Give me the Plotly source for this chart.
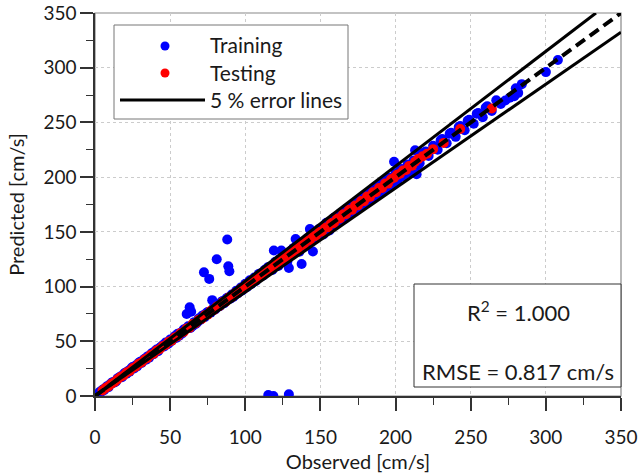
import plotly.graph_objects as go

# ---------------- data (observed, predicted) ----------------
train_points = [
    (2, 1.5), (3, 3.6), (4, 3.8), (5, 5.6), (6, 5.2), (7, 7.5), (8, 8.9), (9, 8.1), (10, 10.6), (11, 11.8),
    (12, 12.9), (13, 12.4), (14, 13.2), (15, 16.1), (16, 16.9), (17, 17.8), (18, 17.1), (19, 19.9),
    (20, 21.2), (21, 20.3), (22, 22.9), (23, 22.1), (24, 25.1), (25, 26.4), (26, 25.2), (27, 27.8),
    (28, 27.0), (29, 30.2), (30, 31.3), (31, 30.1), (32, 32.6), (33, 34.1), (34, 33.1), (35, 36.2),
    (36, 35.0), (37, 37.9), (38, 39.2), (39, 38.3), (40, 41.1), (41, 42.5), (42, 41.0), (43, 43.8),
    (44, 44.9), (45, 46.3), (46, 45.2), (47, 48.9), (48, 47.1), (49, 48.1), (50, 51.6), (51, 50.2),
    (52, 52.4), (53, 54.6), (54, 53.1), (55, 56.8), (56, 55.0), (57, 57.9), (58, 57.2), (59, 60.8),
    (60, 61.3), (61, 75), (63, 81), (64, 77), (62, 63.8), (63.5, 62.1), (65, 64.1), (66, 67.5),
    (67, 65.8), (68, 67.2), (69, 70.8), (70, 69.5), (71, 72.9), (72, 73.9), (72.5, 113), (73, 72.1),
    (74, 75.6), (75, 76.8), (76, 107), (77, 76.2), (78, 87.6), (79, 80.5), (80, 79.1), (81, 125),
    (82, 83.8), (83, 82.1), (84, 85.9), (85, 86.9), (86, 84.8), (87, 88.3), (88, 143), (88.7, 118.6),
    (89.4, 114), (88, 89.7), (90, 88.9), (91, 92.8), (92, 90.6), (93, 92.1), (94, 96.2), (95, 93.8),
    (96, 95.3), (97, 99.1), (98, 96.5), (99, 98.1), (100, 102.5), (101, 99.4), (102, 101.2),
    (103, 105.8), (104, 102.3), (105, 104.0), (106, 108.2), (107, 105.1), (108, 106.9), (109, 111.6),
    (110, 111.9), (111, 109.8), (112, 110.1), (113, 115.3), (114, 112.6), (115, 117.6), (116, 117.8),
    (115.3, 0.9), (118.7, 0.0), (129, 1.5), (117, 116.1), (118, 115.2), (119, 133), (124, 133),
    (120, 122.6), (121, 119.8), (122, 118.9), (123, 125.3), (124, 121.8), (125, 123.4), (126, 128.5),
    (127, 125.1), (128, 122.9), (129, 117), (130, 132.4), (131, 129.2), (132, 135.1), (133.5, 143.4),
    (134, 136.8), (135, 133.1), (136, 131.8), (137.5, 120.7), (138, 140.6), (139, 136.1), (140, 138.2),
    (141, 143.9), (142, 139.4), (143, 152.5), (145, 132), (144, 141.8), (145.5, 148.8), (146, 149.2),
    (147, 143.9), (148, 146.1), (149, 152.6), (150, 152.8), (151, 148.9), (152, 147.6),
    (153, 156.2), (154, 158.4), (155, 152.9), (156, 151.2), (157, 160.1), (158, 155.8), (159, 162.9),
    (160, 163.2), (161, 157.4), (162, 159.9), (163, 166.8), (164, 167.1), (165, 161.0), (166, 163.8),
    (167, 170.9), (168, 171.2), (169, 165.2), (170, 167.5), (171, 174.6), (172, 175.3), (173, 168.8),
    (174, 171.4), (175, 178.9), (176, 179.6), (177, 172.8), (178, 175.2), (179, 183.1), (180, 183.4),
    (181, 176.5), (182, 179.6), (183, 186.6), (184, 187.5), (185, 180.4), (186, 183.4), (187, 190.8),
    (188, 191.6), (189, 184.6), (190, 187.4), (191, 194.9), (192, 195.8), (193, 188.2), (194, 191.1),
    (195, 198.6), (196, 199.5), (199, 214), (197, 192.5), (198, 195.2), (200, 203.6), (201, 196.4),
    (202, 199.1), (203, 206.8), (204, 207.4), (205, 200.6), (206, 203.2), (208, 211.5), (209, 204.1),
    (210, 206.9), (213, 224.6), (214, 202.6), (212, 215.2), (215, 210.8), (216, 212.8), (218, 222.1),
    (220, 223.4), (222, 219.4), (225, 228.6), (228, 225.1), (230, 233.6), (231, 234.8), (234, 230.9),
    (236, 239.7), (237, 240.6), (240, 236.8), (242, 245.8), (243, 246.7), (246, 242.9), (248, 251.6),
    (249, 252.4), (252, 248.8), (254, 257.9), (255, 258.6), (258, 254.7), (260, 263.7), (261, 264.8),
    (264, 260.5), (267, 270.2), (270, 266.9), (273, 270.1), (276, 272.6), (279, 274), (280, 281.2),
    (281.6, 277), (284, 285), (300, 296), (308, 307),
]
test_points = [
    (5, 5.1), (7, 7.2), (9, 8.8), (11, 11.3), (13, 12.8), (15, 15.2), (17, 17.3), (19, 18.7), (21, 21.4),
    (23, 22.7), (25, 25.3), (27, 26.8), (29, 29.4), (31, 30.7), (33, 33.3), (35, 34.8), (37, 37.4),
    (39, 38.6), (41, 41.5), (43, 42.7), (45, 45.4), (47, 46.6), (49, 49.5), (51, 50.6), (53, 53.5),
    (55, 54.6), (57, 57.6), (59, 58.5), (61, 61.6), (63, 62.4), (65, 65.7), (67, 66.5), (69, 69.6),
    (71, 70.4), (73, 73.7), (75, 74.3), (77, 77.8), (79, 78.4), (81, 81.7), (83, 82.3), (85, 85.8),
    (87, 86.2), (89, 89.9), (91, 90.3), (93, 93.8), (95, 94.2), (97, 97.9), (99, 98.1), (101, 102.0),
    (103, 102.2), (105, 105.9), (107, 106.1), (109, 110.1), (111, 110.0), (113, 114.0), (115, 114.2),
    (117, 117.9), (119, 118.1), (121, 122.0), (123, 122.2), (125, 125.8), (127, 126.1), (129, 130.1),
    (131, 130.0), (133, 134.1), (135, 134.2), (137, 137.9), (139, 138.1), (141, 142.1), (143, 142.0),
    (145, 146.1), (147, 146.2), (149, 149.9), (151, 150.1), (153, 154.0), (155, 154.1), (157, 158.2),
    (159, 157.9), (161, 162.1), (163, 162.2), (165, 166.0), (167, 166.1), (169, 170.2), (171, 170.1),
    (173, 174.0), (175, 174.2), (177, 178.1), (179, 177.9), (181, 182.2), (183, 182.0), (185, 186.1),
    (187, 186.2), (189, 190.0), (191, 190.1), (193, 194.2), (195, 194.1), (197, 198.0), (199, 199.4),
    (201, 202.1), (203, 203.2), (205, 206.0), (207, 206.6), (209, 210.2), (211, 210.4), (213, 214.1),
    (215, 216.5), (218, 219.0), (221, 221.4), (225, 225.6), (232, 231.3), (243, 244.0), (264, 262.7),
]
train_obs = [p[0] for p in train_points]
train_pred = [p[1] for p in train_points]
test_obs = [p[0] for p in test_points]
test_pred = [p[1] for p in test_points]

axis_range = [0, 350]
tick_vals = [0, 50, 100, 150, 200, 250, 300, 350]
error_pct = 0.05
r2_text = "R<sup>2</sup> = 1.000"
rmse_text = "RMSE = 0.817 cm/s"
legend_labels = ["Training", "Testing", "5 % error lines"]

FONT = "Lato"
TXT = "#1a1a1a"

fig = go.Figure()

fig.add_trace(go.Scatter(x=train_obs, y=train_pred, mode="markers", name=legend_labels[0],
                         marker=dict(color="#0000ff", size=10), showlegend=False))
fig.add_trace(go.Scatter(x=test_obs, y=test_pred, mode="markers", name=legend_labels[1],
                         marker=dict(color="#ff0000", size=10), showlegend=False))

# error lines (1 +/- 5 %) and 1:1 line
xmax = axis_range[1]
for f in (1 + error_pct, 1 - error_pct):
    xe = [0, min(xmax, xmax / f)]
    fig.add_trace(go.Scatter(x=xe, y=[f * v for v in xe], mode="lines",
                             line=dict(color="black", width=3), showlegend=False, hoverinfo="skip"))
fig.add_trace(go.Scatter(x=axis_range, y=axis_range, mode="lines",
                         line=dict(color="black", width=4, dash="11px,6px"),
                         showlegend=False, hoverinfo="skip"))

# plot geometry in pixels
L, R, T, B = 95, 20, 13, 80
W, H = 641, 476
pw, ph = W - L - R, H - T - B


def px(x):
    return (x - L) / pw


def py(y):
    return (H - B - y) / ph


shapes = []
annots = []
shapes.append(dict(type="rect", xref="paper", yref="paper", x0=0, x1=1, y0=0, y1=1,
                   line=dict(color="#888888", width=1.2), layer="below"))
# legend box
shapes.append(dict(type="rect", xref="paper", yref="paper", x0=px(114), x1=px(348), y0=py(119), y1=py(25),
                   line=dict(color="#777777", width=1), fillcolor="white", layer="above"))
for cy, col, r in ((46, "#0000ff", 4.5), (73, "#ff0000", 4.5)):
    shapes.append(dict(type="circle", xref="paper", yref="paper", x0=px(165 - r), x1=px(165 + r),
                       y0=py(cy + r), y1=py(cy - r), fillcolor=col, line=dict(width=0), layer="above"))
shapes.append(dict(type="line", xref="paper", yref="paper", x0=px(120), x1=px(205), y0=py(100), y1=py(100),
                   line=dict(color="black", width=3), layer="above"))
for cy, lab in ((45, legend_labels[0]), (72, legend_labels[1]), (99, legend_labels[2])):
    annots.append(dict(xref="paper", yref="paper", x=px(208), y=py(cy), text=lab, showarrow=False,
                       xanchor="left", yanchor="middle", font=dict(family=FONT, size=21, color=TXT)))
# stats box
shapes.append(dict(type="rect", xref="paper", yref="paper", x0=px(414), x1=1, y0=py(387), y1=py(284),
                   line=dict(color="#333333", width=1), fillcolor="white", layer="above"))
annots.append(dict(xref="paper", yref="paper", x=px(518), y=py(311), text=r2_text, showarrow=False,
                   xanchor="center", yanchor="middle", font=dict(family=FONT, size=22, color=TXT)))
annots.append(dict(xref="paper", yref="paper", x=px(518), y=py(371), text=rmse_text, showarrow=False,
                   xanchor="center", yanchor="middle", font=dict(family=FONT, size=22, color=TXT)))

axis_common = dict(range=axis_range, tickvals=tick_vals, ticks="outside", ticklen=13, tickwidth=1.5,
                   tickcolor="#333333", showline=True, linecolor="#333333", linewidth=1.5,
                   showgrid=True, gridcolor="#cccccc", gridwidth=1, griddash="dot", zeroline=False,
                   tickfont=dict(family=FONT, size=19, color=TXT), ticklabeloverflow="allow",
                   automargin=False,
                   minor=dict(dtick=25, tick0=0, ticks="outside", ticklen=7, tickwidth=1.2,
                              tickcolor="#333333", showgrid=False),
                   fixedrange=True)

fig.update_layout(
    width=W, height=H,
    margin=dict(l=L, r=R, t=T, b=B, autoexpand=False),
    paper_bgcolor="white", plot_bgcolor="white",
    showlegend=False,
    xaxis=dict(**axis_common, ticklabelstandoff=10,
               title=dict(text="Observed [cm/s]", standoff=8, font=dict(family=FONT, size=20, color=TXT))),
    yaxis=dict(**axis_common,
               title=dict(text="Predicted [cm/s]", standoff=13, font=dict(family=FONT, size=20, color=TXT))),
    shapes=shapes, annotations=annots,
)

fig.write_html("out.html")
